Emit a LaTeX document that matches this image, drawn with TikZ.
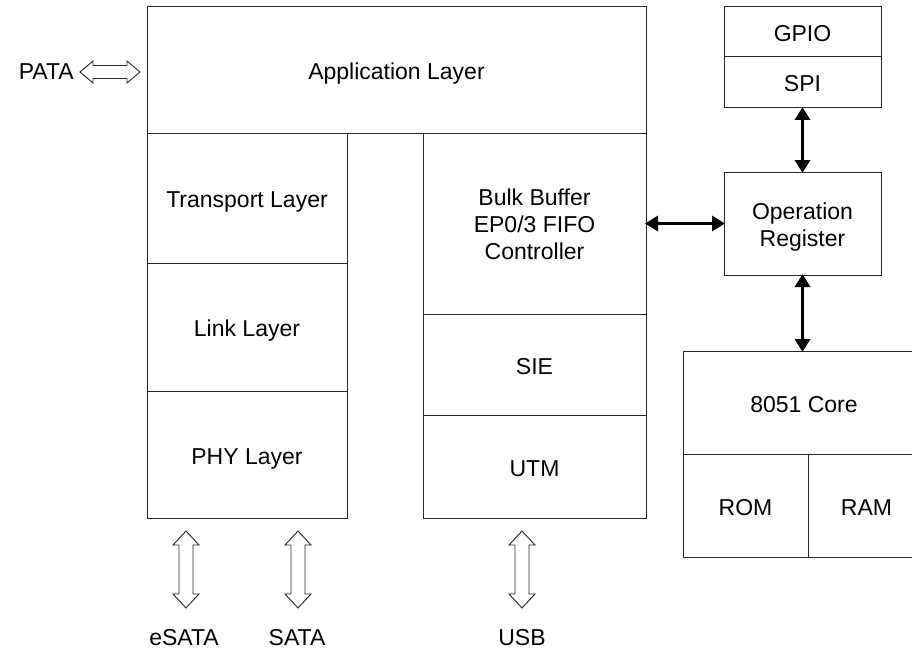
\documentclass[tikz,border=0pt]{standalone}
\usepackage{fontspec}
\setmainfont{Liberation Sans}
\usetikzlibrary{arrows.meta}
\begin{document}
\begin{tikzpicture}[x=1pt,y=-1pt,
  font=\fontsize{23}{27}\selectfont,
  box/.style={draw=black!85,line width=1pt,rectangle,inner sep=0pt,outer sep=0pt,align=center},
  one/.style={text height=19pt,text depth=0pt},
  hollowline/.style={draw=black!85,line width=0.9pt,fill=white,line join=miter},
  bus/.style={line width=3.6pt,{Triangle[length=13pt,width=15pt]}-{Triangle[length=13pt,width=15pt]},shorten <=-1pt,shorten >=-1pt},
  lbl/.style={inner sep=0pt},
  vhollow/.pic={\draw[hollowline] (0,-38.5) -- (13,-24.5) -- (7,-24.5) -- (7,24.5) -- (13,24.5) -- (0,38.5) -- (-13,24.5) -- (-7,24.5) -- (-7,-24.5) -- (-13,-24.5) -- cycle;},
  hhollow/.pic={\draw[hollowline] (-30,0) -- (-17,-11) -- (-17,-6.5) -- (17,-6.5) -- (17,-11) -- (30,0) -- (17,11) -- (17,6.5) -- (-17,6.5) -- (-17,11) -- cycle;}]
\clip (0,0) rectangle (912,658);
\fill[white] (0,0) rectangle (912,658);
% SATA stack
\node[box,one,minimum width=499pt,minimum height=126pt] (app) at (396.5,70) {Application Layer};
\node[box,one,minimum width=200pt,minimum height=130pt] (transport) at (247,198) {Transport Layer};
\node[box,one,minimum width=200pt,minimum height=128pt] (link) at (247,327) {Link Layer};
\node[box,one,minimum width=200pt,minimum height=127pt] (phy) at (247,454.5) {PHY Layer};
% USB stack
\node[box,minimum width=223pt,minimum height=181pt] (bulk) at (534.5,223.5) {\rule{0pt}{19pt}Bulk Buffer\\EP0/3 FIFO\\Controller};
\node[box,one,minimum width=223pt,minimum height=101pt] (sie) at (534.5,364.5) {SIE};
\node[box,one,minimum width=223pt,minimum height=103pt] (utm) at (534.5,466.5) {UTM};
% right side
\node[box,one,minimum width=157pt,minimum height=50pt] (gpio) at (802.5,32) {GPIO};
\node[box,one,minimum width=157pt,minimum height=51pt] (spi) at (802.5,82.5) {SPI};
\node[box,minimum width=157pt,minimum height=103pt] (opreg) at (802.5,223.5) {\rule{0pt}{24pt}Operation\\Register};
\node[box,one,minimum width=242pt,minimum height=103pt] (core) at (804,402.5) {8051 Core};
\node[box,one,minimum width=125pt,minimum height=103pt] (rom) at (745.5,505.5) {ROM};
\node[box,one,minimum width=117pt,minimum height=103pt] (ram) at (866.5,505.5) {RAM};
% black arrows
\draw[bus] (bulk.east) -- (opreg.west);
\draw[bus] (spi.south) -- (opreg.north);
\draw[bus] (opreg.south) -- (opreg.south |- core.north);
% hollow arrows and labels
\pic at (110,72) {hhollow};
\node[lbl,anchor=east] (pata) at (74,72) {PATA};
\pic at (186,569.5) {vhollow};
\pic at (298,569.5) {vhollow};
\pic at (522,569.5) {vhollow};
\node[lbl] (esata) at (184,638) {eSATA};
\node[lbl] (sata) at (297,638) {SATA};
\node[lbl] (usb) at (522,638) {USB};
\end{tikzpicture}
\end{document}
